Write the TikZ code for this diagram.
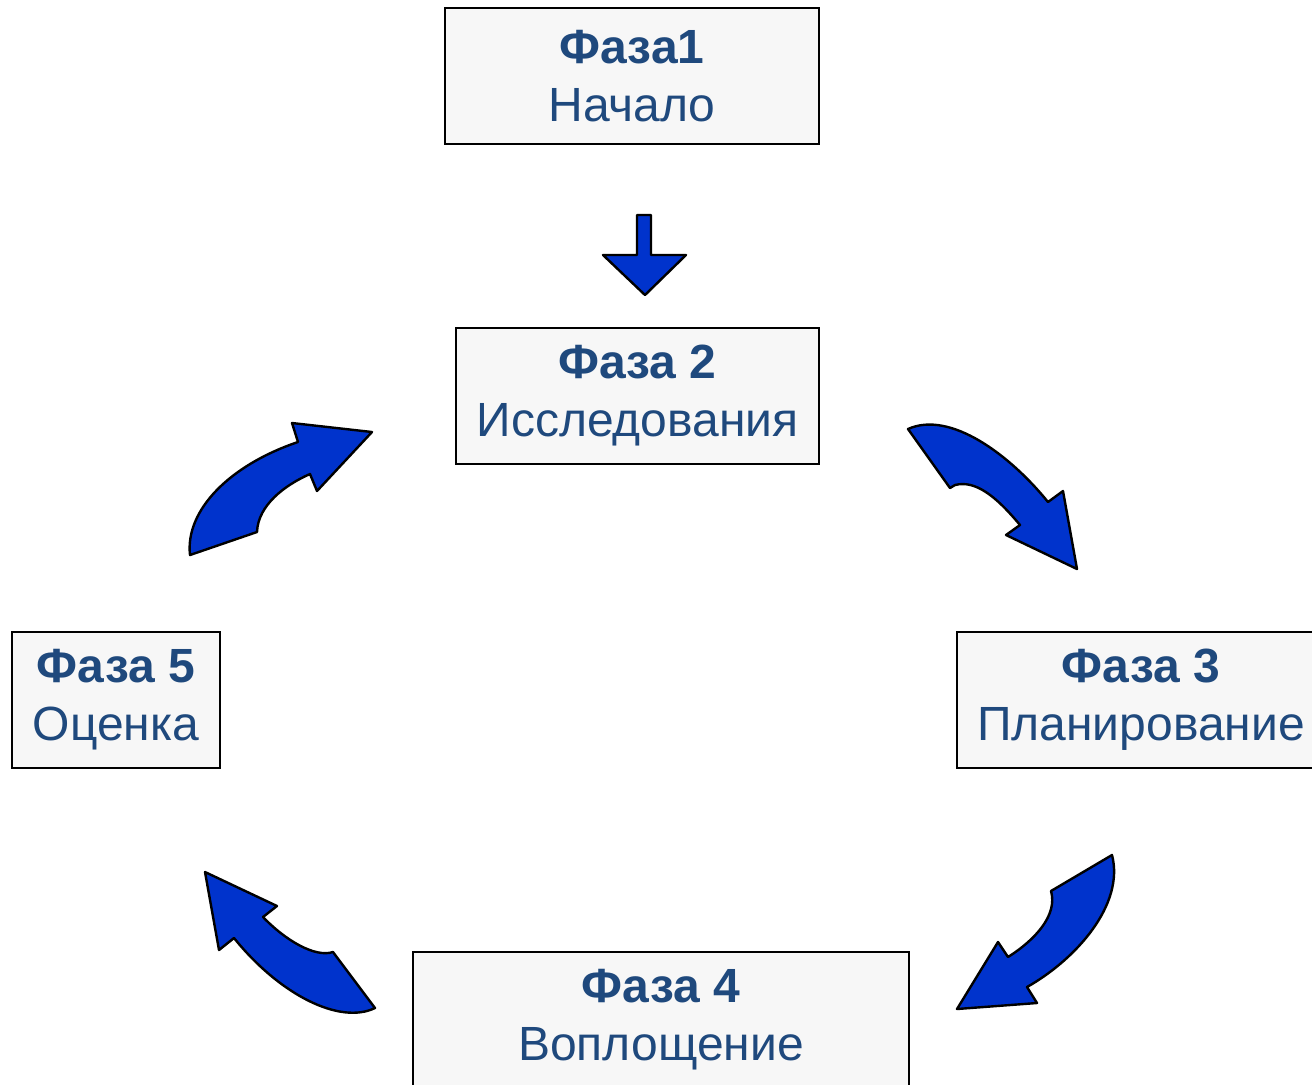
\documentclass[tikz,border=0pt]{standalone}
\usepackage{fontspec}
\setmainfont{Liberation Sans}
\usetikzlibrary{positioning}
\definecolor{phasetext}{RGB}{31,73,125}
\definecolor{arrowblue}{RGB}{0,51,204}
\definecolor{boxgray}{RGB}{247,247,247}
\tikzstyle{phase}=[draw,line width=1pt,fill=boxgray,text=phasetext,align=center,minimum height=68pt,inner sep=2pt,font=\fontsize{24}{29}\selectfont]
\tikzstyle{bigarrow}=[draw,line width=1.2pt,fill=arrowblue,line join=round]

\begin{document}
\begin{tikzpicture}[x=0.5pt,y=-0.5pt]
\useasboundingbox (0,0) rectangle (1312,1084);
\node [phase,minimum width=187pt] (p1) at (632,76) {\textbf{Фаза1}\\Начало};
\node [phase,minimum width=181.5pt] (p2) at (637.5,396) {\textbf{Фаза 2}\\Исследования};
\node [phase,minimum width=184pt] (p3) at (1141,700) {\textbf{Фаза 3}\\Планирование};
\node [phase,minimum width=248pt] (p4) at (661,1020) {\textbf{Фаза 4}\\Воплощение};
\node [phase,minimum width=104pt] (p5) at (116,700) {\textbf{Фаза 5}\\Оценка};
% straight arrow 1 -> 2
\draw [bigarrow] (637,215) -- (651,215) -- (651,255) -- (686,255) -- (645,295)
  -- (603,255) -- (637,255) -- cycle;
% curved arrow 2 -> 3
\draw [bigarrow] (908,429) .. controls (950,410) and (1010,455) .. (1048,502)
  -- (1063,491) -- (1077,569) -- (1006,535) -- (1020,525)
  .. controls (995,495) and (975,480) .. (955,485) -- (950,488) -- cycle;
% curved arrow 3 -> 4
\draw [bigarrow] (1112,855) .. controls (1125,905) and (1075,960) .. (1027,987)
  -- (1037,1003) -- (957,1009) -- (998,942) -- (1008,957)
  .. controls (1035,940) and (1058,915) .. (1051,891) -- cycle;
% curved arrow 4 -> 5
\draw [bigarrow] (375,1008) .. controls (340,1025) and (280,995) .. (234,938)
  -- (219,950) -- (205,872) -- (277,906) -- (263,917)
  .. controls (285,940) and (315,958) .. (333,952) -- cycle;
% curved arrow 5 -> 2
\draw [bigarrow] (190,555) .. controls (185,510) and (230,465) .. (298,442)
  -- (292,423) -- (372,432) -- (317,491) -- (310,474)
  .. controls (285,485) and (258,505) .. (257,532) -- cycle;
\end{tikzpicture}
\end{document}
